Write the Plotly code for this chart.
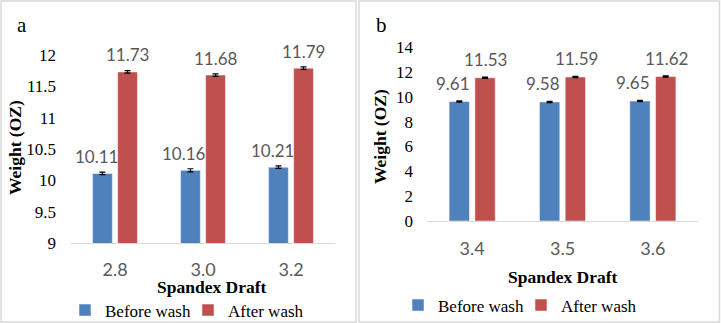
import plotly.graph_objects as go

W, H = 721, 323

# ---------------- data ----------------
drafts_a = ["2.8", "3.0", "3.2"]
before_a = [10.11, 10.16, 10.21]
after_a = [11.73, 11.68, 11.79]
err_before_a = [0.02, 0.025, 0.02]
err_after_a = [0.02, 0.02, 0.02]

drafts_b = ["3.4", "3.5", "3.6"]
before_b = [9.61, 9.58, 9.65]
after_b = [11.53, 11.59, 11.62]
err_before_b = [0.05, 0.05, 0.05]
err_after_b = [0.05, 0.05, 0.05]

yticks_a = [9, 9.5, 10, 10.5, 11, 11.5, 12]
ytick_text_a = ["9", "9.5", "10", "10.5", "11", "11.5", "12"]
yticks_b = [0, 2, 4, 6, 8, 10, 12, 14]

BLUE = "#4f81bd"
RED = "#c0504d"
GRAY_TXT = "#595959"
SERIF = "Liberation Serif"
SANS = "Lato"


def px(x):
    return x / W


def py(y):
    return 1 - y / H


fig = go.Figure()

err_style = dict(type="data", visible=True, color="black", thickness=1.2, width=3)

fig.add_trace(go.Bar(x=drafts_a, y=before_a, name="Before wash", marker_color=BLUE,
                     marker_line=dict(color="white", width=0.5),
                     error_y=dict(array=err_before_a, **err_style),
                     xaxis="x", yaxis="y", legend="legend"))
fig.add_trace(go.Bar(x=drafts_a, y=after_a, name="After wash", marker_color=RED,
                     marker_line=dict(color="white", width=0.5),
                     error_y=dict(array=err_after_a, **err_style),
                     xaxis="x", yaxis="y", legend="legend"))
fig.add_trace(go.Bar(x=drafts_b, y=before_b, name="Before wash", marker_color=BLUE,
                     marker_line=dict(color="white", width=0.5),
                     error_y=dict(array=err_before_b, **err_style),
                     xaxis="x2", yaxis="y2", legend="legend2"))
fig.add_trace(go.Bar(x=drafts_b, y=after_b, name="After wash", marker_color=RED,
                     marker_line=dict(color="white", width=0.5),
                     error_y=dict(array=err_after_b, **err_style),
                     xaxis="x2", yaxis="y2", legend="legend2"))

label_font = dict(family=SANS, size=17, color=GRAY_TXT)
annotations = []
# value labels
for i, v in enumerate(before_a):
    annotations.append(dict(x=i, y=v, xref="x", yref="y", text=f"{v:.2f}", showarrow=False,
                            xshift=-19, yshift=4.5, yanchor="bottom", font=label_font))
for i, v in enumerate(after_a):
    annotations.append(dict(x=i, y=v, xref="x", yref="y", text=f"{v:.2f}", showarrow=False,
                            xshift=12.5, yshift=4.5, yanchor="bottom", font=label_font))
for i, v in enumerate(before_b):
    annotations.append(dict(x=i, y=v, xref="x2", yref="y2", text=f"{v:.2f}", showarrow=False,
                            xshift=-19.5, yshift=6, yanchor="bottom", font=label_font))
for i, v in enumerate(after_b):
    annotations.append(dict(x=i, y=v, xref="x2", yref="y2", text=f"{v:.2f}", showarrow=False,
                            xshift=13.5, yshift=6, yanchor="bottom", font=label_font))

# axis titles and panel letters
title_font = dict(family=SERIF, size=17.5, color="black", weight="bold")
annotations += [
    dict(x=px(212), y=py(287), xref="paper", yref="paper", text="Spandex Draft",
         showarrow=False, font=title_font, xanchor="center", yanchor="middle"),
    dict(x=px(562.5), y=py(276.5), xref="paper", yref="paper", text="Spandex Draft",
         showarrow=False, font=title_font, xanchor="center", yanchor="middle"),
    dict(x=px(15), y=py(148), xref="paper", yref="paper", text="Weight (OZ)",
         showarrow=False, font=title_font, textangle=-90, xanchor="center", yanchor="middle"),
    dict(x=px(380), y=py(137), xref="paper", yref="paper", text="Weight (OZ)",
         showarrow=False, font=title_font, textangle=-90, xanchor="center", yanchor="middle"),
    dict(x=px(22), y=py(25), xref="paper", yref="paper", text="a",
         showarrow=False, font=dict(family=SERIF, size=21, color="black"),
         xanchor="center", yanchor="middle"),
    dict(x=px(381), y=py(25), xref="paper", yref="paper", text="b",
         showarrow=False, font=dict(family=SERIF, size=21, color="black"),
         xanchor="center", yanchor="middle"),
]

shapes = [
    dict(type="rect", xref="paper", yref="paper", x0=px(1), x1=px(356), y0=py(322), y1=py(1),
         line=dict(color="#d9d9d9", width=1.5), layer="below"),
    dict(type="rect", xref="paper", yref="paper", x0=px(359), x1=px(719.5), y0=py(322), y1=py(1),
         line=dict(color="#d9d9d9", width=1.5), layer="below"),
]

xaxis_common = dict(type="category", showgrid=False, zeroline=False, showline=True,
                    linecolor="#d9d9d9", linewidth=1, ticks="", automargin=False,
                    tickfont=dict(family=SANS, size=18, color=GRAY_TXT), fixedrange=True)
yaxis_common = dict(showgrid=False, zeroline=False, showline=False, ticks="", automargin=False,
                    tickfont=dict(family=SERIF, size=17, color="black"), fixedrange=True)

legend_common = dict(orientation="h", font=dict(family=SERIF, size=17, color="black"),
                     bgcolor="rgba(0,0,0,0)", xanchor="left", yanchor="middle",
                     itemwidth=30, entrywidthmode="pixels", entrywidth=78, tracegroupgap=0)

fig.update_layout(
    width=W, height=H,
    margin=dict(l=0, r=0, t=0, b=0, autoexpand=False),
    paper_bgcolor="white", plot_bgcolor="white",
    barmode="group", bargap=0.43, bargroupgap=0.21,
    showlegend=True,
    xaxis=dict(domain=[px(71), px(335)], anchor="y", ticklabelstandoff=10, **xaxis_common),
    yaxis=dict(domain=[py(243), py(55)], range=[9, 12], anchor="x",
               tickvals=yticks_a, ticktext=ytick_text_a, ticklabelstandoff=14, **yaxis_common),
    xaxis2=dict(domain=[px(427), px(698)], anchor="y2", ticklabelstandoff=11, **xaxis_common),
    yaxis2=dict(domain=[py(221), py(47)], range=[0, 14], anchor="x2",
                tickvals=yticks_b, ticklabelstandoff=13, **yaxis_common),
    legend=dict(x=px(65), y=py(310.5), **legend_common),
    legend2=dict(x=px(398), y=py(305.5), **legend_common),
    annotations=annotations,
    shapes=shapes,
)

fig.write_html("out.html", config={"displayModeBar": False},
               post_script="document.body.style.margin='0';document.body.style.padding='0';"
                           "document.body.style.overflow='hidden';")
